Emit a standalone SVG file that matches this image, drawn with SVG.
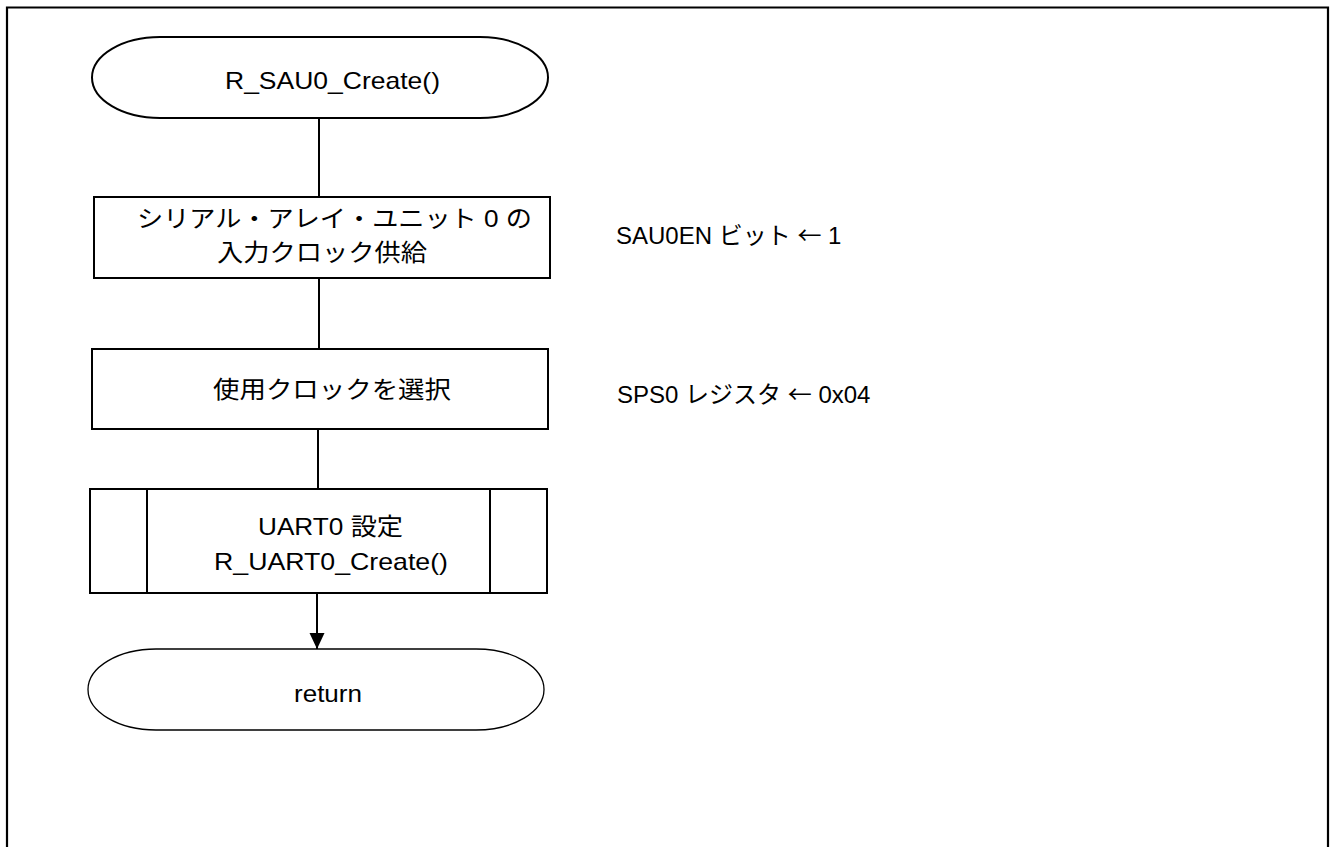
<svg xmlns="http://www.w3.org/2000/svg" width="1332" height="847" viewBox="0 0 1332 847">
<style>
text{font-family:"Liberation Sans","Noto Sans CJK JP",sans-serif;font-size:24px;fill:#000}
.j{font-family:"Noto Sans CJK JP",sans-serif}
.s{fill:#fff;stroke:#000;stroke-width:2}
.t{fill:#fff;stroke:#000;stroke-width:1.3}
.c{fill:none;stroke:#000;stroke-width:2}
</style>
<defs>
<marker id="ah" markerWidth="16" markerHeight="16" refX="16" refY="8" orient="auto" markerUnits="userSpaceOnUse">
<path d="M0,0.5 L16,8 L0,15.5 Z" fill="#000"/>
</marker>
</defs>
<rect width="1332" height="847" fill="#fff"/>
<path d="M7,848 V7.5 H1328 V848" fill="none" stroke="#000" stroke-width="2.2"/>
<g id="connectors">
<line class="c" x1="319" y1="118" x2="319" y2="197"/>
<line class="c" x1="319" y1="278" x2="319" y2="349"/>
<line class="c" x1="318" y1="429" x2="318" y2="489"/>
<line class="c" x1="317" y1="593" x2="317" y2="649" marker-end="url(#ah)"/>
</g>
<g id="start">
<path class="s" d="M160,37 H480 A68,40.5 0 0 1 480,118 H160 A68,40.5 0 0 1 160,37 Z"/>
<text x="225" y="89" textLength="215" lengthAdjust="spacingAndGlyphs">R_SAU0_Create()</text>
</g>
<g id="box1">
<rect class="s" x="94" y="197" width="456" height="81"/>
<text x="137" y="227" textLength="395" lengthAdjust="spacingAndGlyphs">シリアル・アレイ・ユニット 0 の</text>
<text x="217" y="261" textLength="210" lengthAdjust="spacingAndGlyphs">入力クロック供給</text>
</g>
<g id="note1">
<text x="616" y="244">SAU0EN ビット <tspan class="j">←</tspan> 1</text>
</g>
<g id="box2">
<rect class="s" x="92" y="349" width="456" height="80"/>
<text x="213" y="398" textLength="238" lengthAdjust="spacingAndGlyphs">使用クロックを選択</text>
</g>
<g id="note2">
<text x="617" y="403">SPS0 レジスタ <tspan class="j">←</tspan> 0x04</text>
</g>
<g id="sub">
<rect class="s" x="90" y="489" width="457" height="104"/>
<line class="c" x1="147" y1="489" x2="147" y2="593"/>
<line class="c" x1="490" y1="489" x2="490" y2="593"/>
<text x="258" y="535" textLength="145" lengthAdjust="spacingAndGlyphs">UART0 設定</text>
<text x="214" y="570" textLength="234" lengthAdjust="spacingAndGlyphs">R_UART0_Create()</text>
</g>
<g id="end">
<path class="t" d="M156,649 H476 A68,40.5 0 0 1 476,730 H156 A68,40.5 0 0 1 156,649 Z"/>
<text x="294" y="702" textLength="68" lengthAdjust="spacingAndGlyphs">return</text>
</g>
</svg>
